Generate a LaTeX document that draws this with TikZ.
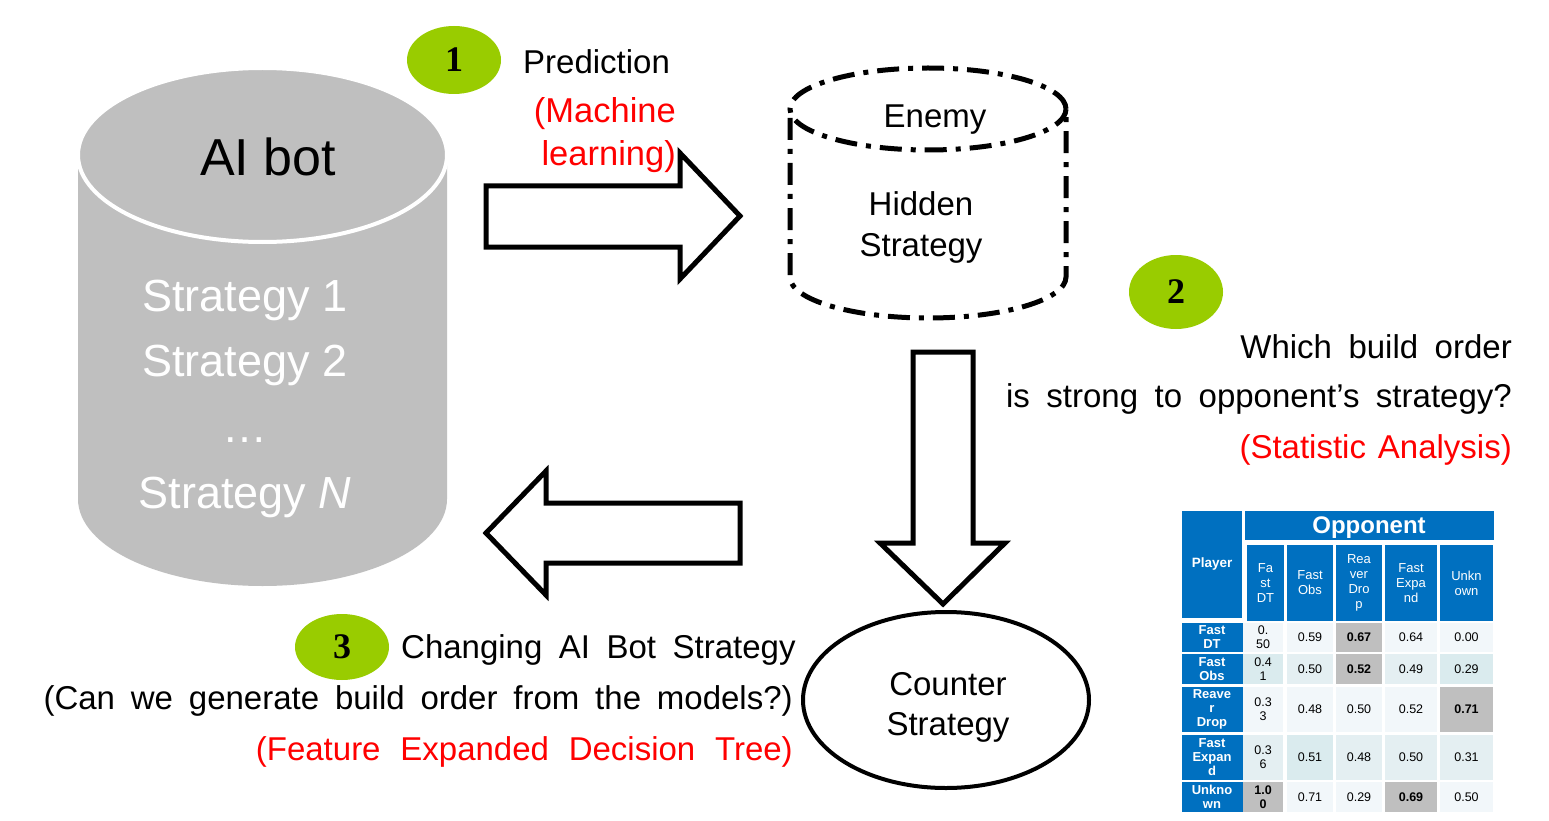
\documentclass[tikz,border=0pt]{standalone}
\usepackage{fontspec}
\usetikzlibrary{shapes.geometric}
\setmainfont{Liberation Sans}
\newfontfamily\serifb{Liberation Serif}
\definecolor{cylgray}{HTML}{BFBFBF}
\definecolor{badge}{HTML}{99CC00}
\definecolor{tblue}{HTML}{0070C0}
\definecolor{cellA}{HTML}{F2F7FA}
\definecolor{cellB}{HTML}{E4EFF2}
\definecolor{cellC}{HTML}{DAEBEE}
\definecolor{cellG}{HTML}{BFBFBF}
\newcommand\bigfnt{\fontsize{33}{41}\selectfont\spaceskip 0.5em\relax}
\newcommand\tcell[7]{\node[#6, minimum width=#4pt, minimum height=#5pt] (#1) at (#2,#3) {#7};}
\begin{document}
\begin{tikzpicture}[x=1pt,y=-1pt,
  big/.style={font=\bigfnt, inner sep=0pt},
  red/.style={text=red},
  badgenode/.style={ellipse, fill=badge, minimum width=94pt, minimum height=68pt, inner sep=0pt, font=\serifb\bfseries\fontsize{36}{36}\selectfont},
  blockarrow/.style={draw=black, line width=5pt, fill=white, line join=miter},
  strat/.style={font=\fontsize{45}{45}\selectfont, text=white, inner sep=0pt},
  hd/.style={fill=tblue, text=white, inner sep=0pt, align=center, font=\fontsize{13}{15}\selectfont},
  lb/.style={fill=tblue, text=white, inner sep=0pt, align=center, font=\bfseries\fontsize{13}{14}\selectfont},
  dA/.style={fill=cellA, inner sep=0pt, align=center, font=\fontsize{12.5}{14}\selectfont},
  dB/.style={fill=cellB, inner sep=0pt, align=center, font=\fontsize{12.5}{14}\selectfont},
  dC/.style={fill=cellC, inner sep=0pt, align=center, font=\fontsize{12.5}{14}\selectfont},
  dG/.style={fill=cellG, inner sep=0pt, align=center, font=\bfseries\fontsize{12.5}{14}\selectfont},
]
\useasboundingbox (0,0) rectangle (1549,821);
\fill[white] (0,0) rectangle (1549,821);

% AI bot cylinder
\fill[cylgray] (78,155) -- (78,499) arc[start angle=180, end angle=360, x radius=184.5pt, y radius=87pt] -- (447,155) -- cycle;
\draw[white, line width=4pt, fill=cylgray] (262.5,155) ellipse [x radius=184.5pt, y radius=87pt];
\node[font=\fontsize{52}{52}\selectfont, inner sep=0pt] (aibot) at (268,157) {AI bot};
\node[strat] (s1) at (245,300) {Strategy 1};
\node[strat] (s2) at (245,365) {Strategy 2};
\node[strat] (s3) at (245,440) {…};
\node[strat] (s4) at (245,497) {Strategy \textit{N}};

% badge 1
\node[badgenode] (b1) at (454,60) {1};
\node[big, anchor=west] (pred) at (523,62) {Prediction};
\node[big, red, anchor=east, font=\fontsize{34.5}{41}\selectfont] (ml1) at (676,114) {(Machine};
\node[big, red, anchor=east, font=\fontsize{34.5}{41}\selectfont] (ml2) at (676,157) {learning)};

% right arrow
\draw[blockarrow] (486,186) -- (680,186) -- (680,153) -- (740,216) -- (680,279) -- (680,247) -- (486,247) -- cycle;

% Enemy cylinder
\begin{scope}[line width=5pt, dash pattern=on 22pt off 9pt on 5pt off 9pt]
\draw (928,109) ellipse [x radius=138pt, y radius=41pt];
\draw (790,118) -- (790,277) arc[start angle=180, end angle=360, x radius=138pt, y radius=41pt] -- (1066,112);
\end{scope}
\node[big] (enemy) at (935,120) {Enemy};
\node[big] (hid1) at (921,204) {Hidden};
\node[big] (hid2) at (921,248) {Strategy};

% badge 2
\node[badgenode, minimum height=74pt] (b2) at (1176,292) {2};
\node[big, anchor=east] (q1) at (1512,347) {Which build order};
\node[big, anchor=east] (q2) at (1512,399) {is strong to opponent’s strategy?};
\node[big, red, anchor=east, font=\fontsize{33}{41}\selectfont\spaceskip 0.36em\relax] (q3) at (1512,450) {(Statistic Analysis)};

% down arrow
\draw[blockarrow] (913,352) -- (973,352) -- (973,543) -- (1005,543) -- (943,604) -- (880,543) -- (913,543) -- cycle;

% Counter strategy
\node[draw=black, line width=4pt, ellipse, minimum width=286pt, minimum height=176pt, inner sep=0pt] (counter) at (946,700) {};
\node[big] (c1) at (948,684) {Counter};
\node[big] (c2) at (948,727) {Strategy};

% left arrow
\draw[blockarrow] (740,503) -- (546,503) -- (546,471) -- (486,533) -- (546,595) -- (546,563) -- (740,563) -- cycle;

% badge 3
\node[badgenode, minimum height=66pt] (b3) at (342,647) {3};
\node[big, anchor=west] (t1) at (401,650) {Changing AI Bot Strategy};
\node[big, anchor=east, font=\fontsize{33}{41}\selectfont\spaceskip 0.48em\relax] (t2) at (793,701) {(Can we generate build order from the models?)};
\node[big, red, anchor=east, font=\fontsize{33}{41}\selectfont\spaceskip 0.6em\relax] (t3) at (793,752) {(Feature Expanded Decision Tree)};

% table
\tcell{player}{1212}{564.5}{60}{107}{hd, font=\bfseries\fontsize{13.5}{15}\selectfont}{Player}
\tcell{opp}{1369}{525}{249}{29}{hd}{}
\node[text=white, inner sep=0pt, font=\bfseries\fontsize{24}{24}\selectfont] (opptext) at (1369,528) {Opponent};
\tcell{h1}{1265.5}{583}{37}{76}{hd}{Fa\\st\\DT}
\tcell{h2}{1310}{583}{46}{76}{hd}{Fast\\Obs}
\tcell{h3}{1359}{583}{46}{76}{hd}{Rea\\ver\\Dro\\p}
\tcell{h4}{1411}{583}{52}{76}{hd}{Fast\\Expa\\nd}
\tcell{h5}{1466.5}{583}{53}{76}{hd}{Unkn\\own}

\tcell{r1}{1212}{637.5}{61}{29}{lb}{Fast\\DT}
\tcell{r2}{1212}{669}{61}{30}{lb}{Fast\\Obs}
\tcell{r3}{1212}{709.5}{61}{45}{lb}{Reave\\r\\Drop}
\tcell{r4}{1212}{757.5}{61}{45}{lb}{Fast\\Expan\\d}
\tcell{r5}{1212}{797}{61}{30}{lb}{Unkno\\wn}

\tcell{a11}{1263}{637.5}{40}{29}{dA}{0.\\50}
\tcell{a12}{1310}{637.5}{46}{29}{dA}{0.59}
\tcell{a13}{1359}{637.5}{46}{29}{dG}{0.67}
\tcell{a14}{1411}{637.5}{52}{29}{dA}{0.64}
\tcell{a15}{1466.5}{637.5}{53}{29}{dA}{0.00}

\tcell{a21}{1263}{669}{40}{30}{dC}{0.4\\1}
\tcell{a22}{1310}{669}{46}{30}{dB}{0.50}
\tcell{a23}{1359}{669}{46}{30}{dG}{0.52}
\tcell{a24}{1411}{669}{52}{30}{dB}{0.49}
\tcell{a25}{1466.5}{669}{53}{30}{dC}{0.29}

\tcell{a31}{1263}{709.5}{40}{45}{dA}{0.3\\3}
\tcell{a32}{1310}{709.5}{46}{45}{dA}{0.48}
\tcell{a33}{1359}{709.5}{46}{45}{dA}{0.50}
\tcell{a34}{1411}{709.5}{52}{45}{dA}{0.52}
\tcell{a35}{1466.5}{709.5}{53}{45}{dG}{0.71}

\tcell{a41}{1263}{757.5}{40}{45}{dB}{0.3\\6}
\tcell{a42}{1310}{757.5}{46}{45}{dC}{0.51}
\tcell{a43}{1359}{757.5}{46}{45}{dB}{0.48}
\tcell{a44}{1411}{757.5}{52}{45}{dB}{0.50}
\tcell{a45}{1466.5}{757.5}{53}{45}{dB}{0.31}

\tcell{a51}{1263}{797}{40}{30}{dG}{1.0\\0}
\tcell{a52}{1310}{797}{46}{30}{dA}{0.71}
\tcell{a53}{1359}{797}{46}{30}{dA}{0.29}
\tcell{a54}{1411}{797}{52}{30}{dG}{0.69}
\tcell{a55}{1466.5}{797}{53}{30}{dA}{0.50}
\end{tikzpicture}
\end{document}
